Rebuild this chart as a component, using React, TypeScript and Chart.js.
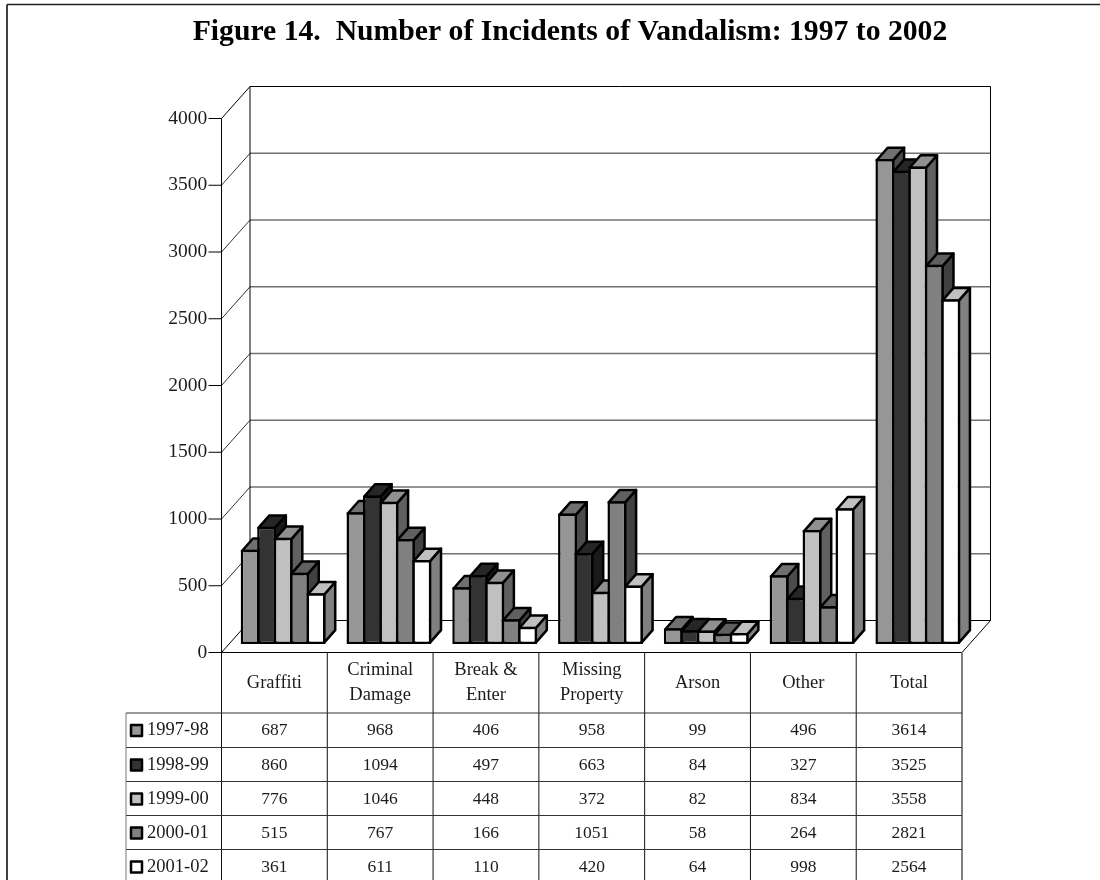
import React, { useEffect, useRef } from "react";
import { Chart, registerables } from "chart.js";

Chart.register(...registerables);

const categories = [["Graffiti"], ["Criminal", "Damage"], ["Break &", "Enter"], ["Missing", "Property"], ["Arson"], ["Other"], ["Total"]];
const yearLabels = ["1997-98", "1998-99", "1999-00", "2000-01", "2001-02"];
const values9798 = [687, 968, 406, 958, 99, 496, 3614];
const values9899 = [860, 1094, 497, 663, 84, 327, 3525];
const values9900 = [776, 1046, 448, 372, 82, 834, 3558];
const values0001 = [515, 767, 166, 1051, 58, 264, 2821];
const values0102 = [361, 611, 110, 420, 64, 998, 2564];
const seriesValues = [values9798, values9899, values9900, values0001, values0102];
const frontColors = ["#969696", "#333333", "#C0C0C0", "#808080", "#FFFFFF"];
const topColors = ["#707070", "#262626", "#909090", "#606060", "#C0C0C0"];
const sideColors = ["#4B4B4B", "#1A1A1A", "#606060", "#404040", "#808080"];
const titleText = "Figure 14.  Number of Incidents of Vandalism: 1997 to 2002";

const SERIF = '"Liberation Serif", serif';
const BORDER = 2.5;
const BAR_DX = 8.7, BAR_DY = 11.05;
const WALL_DX = 28.5, WALL_DY = 32;
const DEPTH_X = 11, DEPTH_Y = 12.5;
const TABLE_LEFT = 126;
const TABLE_ROWS = [713, 747.5, 781.5, 815.5, 849.5];
const TEXT = "#1c1c1c";

function poly(ctx: CanvasRenderingContext2D, pts: number[][], fill: string) {
  ctx.beginPath();
  pts.forEach((p, i) => (i ? ctx.lineTo(p[0], p[1]) : ctx.moveTo(p[0], p[1])));
  ctx.closePath();
  ctx.fillStyle = fill;
  ctx.fill();
  ctx.lineWidth = BORDER;
  ctx.strokeStyle = "#000";
  ctx.lineJoin = "round";
  ctx.stroke();
}

function line(ctx: CanvasRenderingContext2D, x1: number, y1: number, x2: number, y2: number, color = "#000", w = 1) {
  ctx.beginPath();
  ctx.moveTo(x1, y1);
  ctx.lineTo(x2, y2);
  ctx.strokeStyle = color;
  ctx.lineWidth = w;
  ctx.stroke();
}

const wallsPlugin = {
  id: "walls",
  beforeDatasetsDraw(chart: any) {
    const { ctx, chartArea, scales } = chart;
    const y = scales.y;
    const fl = chartArea.left - BAR_DX;
    const fr = chartArea.right - BAR_DX;
    const base = y.getPixelForValue(0) + BAR_DY;
    const topV = y.max;
    ctx.save();
    y.ticks.forEach((t: any) => {
      const fy = y.getPixelForValue(t.value) + BAR_DY;
      const by = fy - WALL_DY;
      if (t.value > 0 && t.value < topV) line(ctx, fl + WALL_DX, by, fr + WALL_DX, by, "#707070", 1.5);
      line(ctx, fl, fy, fl + WALL_DX, by, t.value === 0 || t.value === topV ? "#000" : "#333");
      line(ctx, fl - 13, fy, fl, fy, "#000");
    });
    const topF = y.getPixelForValue(topV) + BAR_DY;
    line(ctx, fl + WALL_DX, topF - WALL_DY, fr + WALL_DX, topF - WALL_DY);
    line(ctx, fl + WALL_DX, topF - WALL_DY, fl + WALL_DX, base - WALL_DY);
    line(ctx, fr + WALL_DX, topF - WALL_DY, fr + WALL_DX, base - WALL_DY);
    line(ctx, fl + WALL_DX, base - WALL_DY, fr + WALL_DX, base - WALL_DY);
    line(ctx, fr + WALL_DX, base - WALL_DY, fr, base);
    line(ctx, fl, base, fr, base);
    line(ctx, fl, topF, fl, base);
    ctx.restore();
  },
  beforeDatasetDraw() {
    return false;
  },
  afterDatasetsDraw(chart: any) {
    const { ctx } = chart;
    ctx.save();
    chart.data.datasets.forEach((_: any, di: number) => {
      const meta = chart.getDatasetMeta(di);
      meta.data.forEach((bar: any) => {
        const half = bar.width / 2 - BORDER / 2;
        const l = bar.x - half, r = bar.x + half;
        const t = bar.y + BORDER / 2, b = bar.base - BORDER / 2;
        poly(ctx, [[r, t], [r + DEPTH_X, t - DEPTH_Y], [r + DEPTH_X, b - DEPTH_Y], [r, b]], sideColors[di]);
        poly(ctx, [[l, t], [l + DEPTH_X, t - DEPTH_Y], [r + DEPTH_X, t - DEPTH_Y], [r, t]], topColors[di]);
        bar.draw(ctx);
      });
    });
    ctx.restore();
  },
};

const tablePlugin = {
  id: "dataTable",
  afterDraw(chart: any) {
    const { ctx, chartArea, scales, width } = chart;
    const x = scales.x, y = scales.y;
    const fl = chartArea.left - BAR_DX;
    const fr = chartArea.right - BAR_DX;
    const base = y.getPixelForValue(0) + BAR_DY;
    const n = chart.data.labels.length;
    const cw = (fr - fl) / n;
    const bottom = chart.height;
    ctx.save();
    // frame (open on the right) and title
    line(ctx, 7, 4.5, width, 4.5, "#222", 1.7);
    line(ctx, 7, 4.5, 7, bottom, "#222", 1.7);
    ctx.fillStyle = "#000";
    ctx.font = `bold 29.7px ${SERIF}`;
    ctx.textAlign = "center";
    ctx.textBaseline = "alphabetic";
    ctx.fillText(titleText, 570, 40);
    // grid
    for (let i = 0; i <= n; i++) {
      const px = fl + cw * i;
      line(ctx, px, base, px, bottom, i === n ? "#808080" : "#111", i === n ? 2 : 1);
    }
    TABLE_ROWS.forEach((ry) => line(ctx, TABLE_LEFT, ry, fr, ry, "#333"));
    line(ctx, TABLE_LEFT, TABLE_ROWS[0], TABLE_LEFT, bottom, "#777");
    // category labels
    ctx.font = `18.5px ${SERIF}`;
    ctx.fillStyle = TEXT;
    ctx.textBaseline = "middle";
    chart.data.labels.forEach((lab: string[], i: number) => {
      const cx = x.getPixelForValue(i) - BAR_DX;
      const cy = (base + TABLE_ROWS[0]) / 2;
      lab.forEach((s, j) => ctx.fillText(s, cx, cy + (j - (lab.length - 1) / 2) * 24.5));
    });
    // rows
    chart.data.datasets.forEach((ds: any, di: number) => {
      const rowY = TABLE_ROWS[di] + 17.5;
      ctx.font = `17.5px ${SERIF}`;
      ds.data.forEach((v: number, i: number) => {
        ctx.textAlign = "center";
        ctx.fillStyle = TEXT;
        ctx.fillText(String(v), x.getPixelForValue(i) - BAR_DX, rowY);
      });
      ctx.fillStyle = frontColors[di];
      ctx.strokeStyle = "#000";
      ctx.lineWidth = 2.5;
      ctx.lineJoin = "round";
      ctx.fillRect(131, rowY - 5.5, 11, 11);
      ctx.strokeRect(131, rowY - 5.5, 11, 11);
      ctx.fillStyle = TEXT;
      ctx.textAlign = "left";
      ctx.font = `18.5px ${SERIF}`;
      ctx.fillText(ds.label, 147, rowY);
    });
    ctx.restore();
  },
};

export default function App() {
  const ref = useRef<HTMLCanvasElement>(null);
  useEffect(() => {
    document.body.style.margin = "0";
    const chart = new Chart(ref.current as HTMLCanvasElement, {
      type: "bar",
      data: {
        labels: categories as any,
        datasets: seriesValues.map((vals, i) => ({
          label: yearLabels[i],
          data: vals,
          backgroundColor: frontColors[i],
          borderColor: "#000",
          borderWidth: BORDER,
          borderSkipped: false,
          categoryPercentage: 0.778,
          barPercentage: 1.15,
          base: -18.7,
        })),
      },
      options: {
        animation: false,
        responsive: false,
        layout: { padding: { left: 150.2, right: 129.3, top: 107.45, bottom: 238.55 } },
        plugins: { legend: { display: false }, tooltip: { enabled: false }, title: { display: false } },
        scales: {
          x: {
            type: "category",
            grid: { display: false },
            border: { display: false },
            ticks: { display: false },
            afterFit(s: any) { s.height = 0; },
          },
          y: {
            min: 0,
            max: 4000,
            grid: { display: false, drawTicks: false },
            border: { display: false },
            afterFit(s: any) { s.width = 80; },
            ticks: {
              stepSize: 500,
              labelOffset: BAR_DY,
              padding: 23,
              color: TEXT,
              font: { family: SERIF, size: 19.5 },
              callback: (v: number) => String(v),
            },
          },
        },
      },
      plugins: [wallsPlugin, tablePlugin],
    } as any);
    return () => chart.destroy();
  }, []);
  return <canvas ref={ref} width={1100} height={880} style={{ display: "block" }} />;
}
